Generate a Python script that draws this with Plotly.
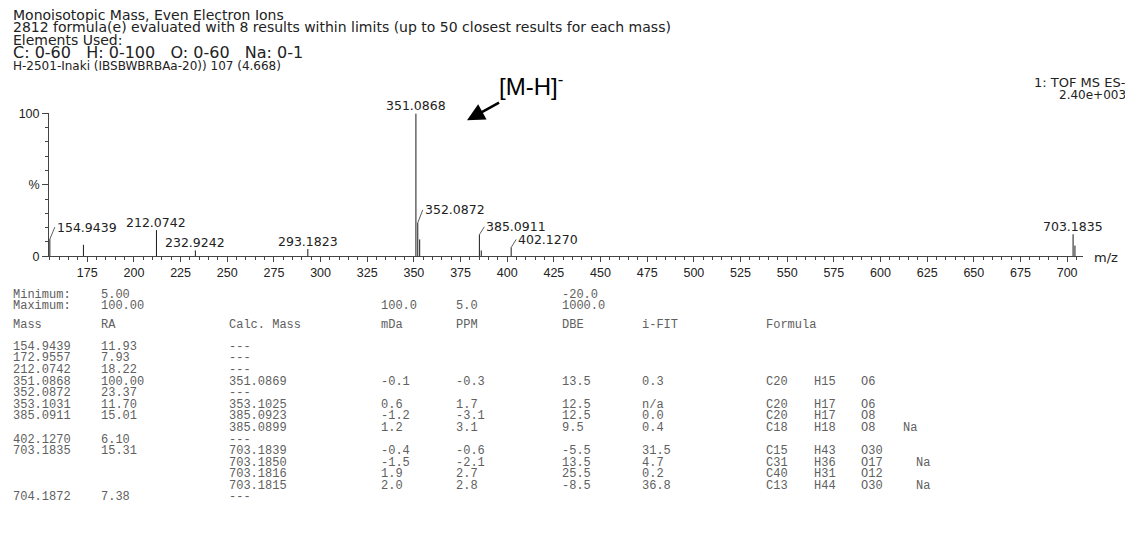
import plotly.graph_objects as go

# spectrum peaks (m/z, relative abundance %)
peak_mz = [154.9439, 172.9557, 212.0742, 232.9242, 293.1823, 351.0868, 352.0872,
           353.1031, 385.0911, 386.0950, 402.1270, 703.1835, 704.1872]
peak_ra = [11.93, 7.93, 18.22, 4.0, 5.0, 100.0, 23.37, 11.70, 15.01, 4.0, 6.10, 15.31, 7.38]

# labelled peaks: centred labels and labels with a leader line
label_top = [212.0742, 232.9242, 293.1823, 351.0868, 703.1835]
label_lead = [154.9439, 352.0872, 385.0911, 402.1270]
lead_dy = [-12, -13, -8, -8]

x_ticks = list(range(175, 701, 25))

# result table
tbl_mass = ['154.9439', '172.9557', '212.0742', '351.0868', '352.0872', '353.1031', '385.0911', '',
            '402.1270', '703.1835', '', '', '', '704.1872']
tbl_ra = ['11.93', '7.93', '18.22', '100.00', '23.37', '11.70', '15.01', '',
          '6.10', '15.31', '', '', '', '7.38']
tbl_calc = ['---', '---', '---', '351.0869', '---', '353.1025', '385.0923', '385.0899',
            '---', '703.1839', '703.1850', '703.1816', '703.1815', '---']
tbl_mda = ['', '', '', '-0.1', '', '0.6', '-1.2', '1.2', '', '-0.4', '-1.5', '1.9', '2.0', '']
tbl_ppm = ['', '', '', '-0.3', '', '1.7', '-3.1', '3.1', '', '-0.6', '-2.1', '2.7', '2.8', '']
tbl_dbe = ['', '', '', '13.5', '', '12.5', '12.5', '9.5', '', '-5.5', '13.5', '25.5', '-8.5', '']
tbl_ifit = ['', '', '', '0.3', '', 'n/a', '0.0', '0.4', '', '31.5', '4.7', '0.2', '36.8', '']
tbl_c = ['', '', '', 'C20', '', 'C20', 'C20', 'C18', '', 'C15', 'C31', 'C40', 'C13', '']
tbl_h = ['', '', '', 'H15', '', 'H17', 'H17', 'H18', '', 'H43', 'H36', 'H31', 'H44', '']
tbl_o = ['', '', '', 'O6', '', 'O6', 'O8', 'O8', '', 'O30', 'O17', 'O12', 'O30', '']
tbl_na = ['', '', '', '', '', '', '', 'Na', '', '', 'Na', '', 'Na', '']

# page has an 8px body margin, so the figure is drawn from (8, 8)
OFF = 8
W, H = 1133 - OFF, 553 - OFF
X0, X1 = 49, 1083      # x axis pixel extent (page coords)
Y0, Y1 = 255.5, 109    # 0 % and 100 % pixel rows (page coords)


def px(x):
    return (x - OFF) / W


def py(y):
    return 1 - (y - OFF) / H


xs, ys = [], []
for m, r in zip(peak_mz, peak_ra):
    xs += [m, m, None]
    ys += [0, r, None]

fig = go.Figure()
fig.add_trace(go.Scatter(x=xs, y=ys, mode='lines', line=dict(color='#1a1a1a', width=1),
                         hoverinfo='skip', showlegend=False))

ann = []
sans = 'Liberation Sans, Arial, sans-serif'
wide = 'DejaVu Sans, Verdana, sans-serif'
mono = 'Liberation Mono, Courier New, monospace'

for m in label_top:
    ann.append(dict(x=m, y=peak_ra[peak_mz.index(m)], xref='x', yref='y', text=f'{m:.4f}',
                    showarrow=False, yanchor='bottom', yshift=-2,
                    font=dict(family=wide, size=12.5, color='#222')))
for m, dy in zip(label_lead, lead_dy):
    ann.append(dict(x=m, y=peak_ra[peak_mz.index(m)], xref='x', yref='y', text=f'{m:.4f}',
                    showarrow=True, arrowhead=0, arrowwidth=0.8, arrowcolor='#333',
                    ax=5, ay=dy, xanchor='left', yanchor='middle',
                    font=dict(family=wide, size=12.5, color='#222')))

# [M-H]- label with its arrow
ann.append(dict(x=px(467), y=py(116), xref='paper', yref='paper',
                text='[M-H]<sup>-</sup>', showarrow=True, arrowhead=2, arrowsize=1.4,
                arrowwidth=2.5, arrowcolor='black', ax=64, ay=-35, startstandoff=2,
                font=dict(family=sans, size=24, color='black')))

# header text
head = [
    ('Monoisotopic Mass, Even Electron Ions', 8, 14),
    ('2812 formula(e) evaluated with 8 results within limits (up to 50 closest results for each mass)', 20.5, 14),
    ('Elements Used:', 33.5, 14),
    ('C: 0-60   H: 0-100   O: 0-60   Na: 0-1', 47, 16),
    ('H-2501-Inaki (IBSBWBRBAa-20)) 107 (4.668)', 60.5, 12),
]
for t, y, s in head:
    ann.append(dict(x=px(11), y=py(y), xref='paper', yref='paper', xanchor='left', yanchor='middle',
                    text=t.replace('   ', '&nbsp;&nbsp;&nbsp;'), showarrow=False,
                    font=dict(family=wide, size=s, color='#222')))
for t, y, s in [('1: TOF MS ES-', 77, 13), ('2.40e+003', 90, 12)]:
    ann.append(dict(x=px(1128), y=py(y), xref='paper', yref='paper', xanchor='right', yanchor='middle',
                    text=t, showarrow=False, font=dict(family=wide, size=s, color='#222')))

ann.append(dict(x=px(1092), y=py(257), xref='paper', yref='paper', xanchor='left', yanchor='middle',
                text='m/z', showarrow=False, font=dict(family=wide, size=13, color='#222')))

# table
col_x = [11, 99, 227, 379, 454, 560, 640, 764, 812, 859]
tc = '#606060'


def cell(t, x, y):
    if t:
        ann.append(dict(x=px(x), y=py(y), xref='paper', yref='paper', xanchor='left', yanchor='middle',
                        text=t.replace(' ', '&nbsp;'), showarrow=False,
                        font=dict(family=mono, size=12, color=tc)))


cell('Minimum:', col_x[0], 295)
cell('5.00', col_x[1], 295)
cell('-20.0', col_x[5], 295)
cell('Maximum:', col_x[0], 307)
cell('100.00', col_x[1], 307)
cell('100.0', col_x[3], 307)
cell('5.0', col_x[4], 307)
cell('1000.0', col_x[5], 307)
for t, x in zip(['Mass', 'RA', 'Calc. Mass', 'mDa', 'PPM', 'DBE', 'i-FIT', 'Formula'], col_x):
    cell(t, x, 326)

for i in range(len(tbl_calc)):
    y = 348.5 + i * 11.9
    row = [tbl_mass[i], tbl_ra[i], tbl_calc[i], tbl_mda[i], tbl_ppm[i], tbl_dbe[i], tbl_ifit[i],
           tbl_c[i], tbl_h[i], tbl_o[i]]
    for t, x in zip(row, col_x):
        cell(t, x, y)
    cell(tbl_na[i], 901 if tbl_o[i] == 'O8' else 914, y)

fig.update_layout(
    width=W, height=H,
    margin=dict(l=0, r=0, t=0, b=0),
    paper_bgcolor='white', plot_bgcolor='white',
    annotations=ann,
    xaxis=dict(domain=[px(X0), px(X1)], range=[154.5, 708.5], tickvals=x_ticks,
               ticks='outside', ticklen=5, tickcolor='#444', showline=True, linecolor='#444',
               linewidth=1, showgrid=False, zeroline=False,
               tickfont=dict(family=sans, size=12.5, color='#222'),
               minor=dict(dtick=5, tick0=0, ticks='outside', ticklen=3, tickcolor='#444')),
    yaxis=dict(domain=[py(Y0), py(Y1)], range=[0, 100], tickvals=[0, 50, 100],
               ticktext=['0', '%', '100'], ticks='outside', ticklen=6, tickcolor='#444',
               showline=True, linecolor='#444', linewidth=1, showgrid=False, zeroline=False,
               tickfont=dict(family=sans, size=12.5, color='#222'),
               minor=dict(dtick=10, ticks='outside', ticklen=3, tickcolor='#444')),
)

fig.write_html('out.html')
